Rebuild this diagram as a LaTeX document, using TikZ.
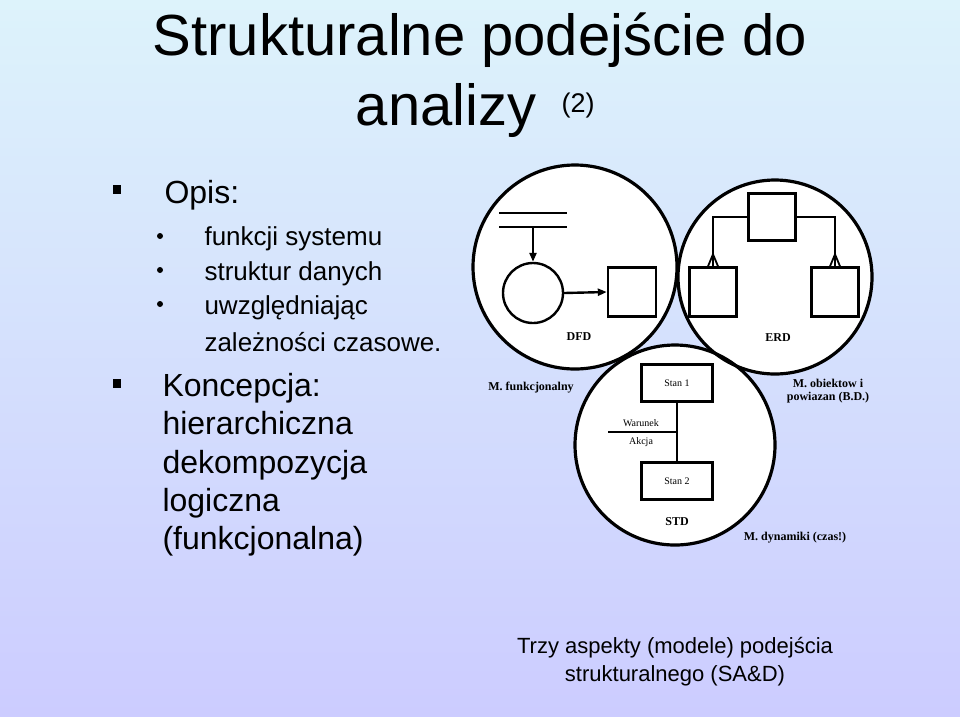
\documentclass[tikz,border=0pt]{standalone}
\usepackage{fontspec}
\setmainfont{Liberation Sans}
\newfontfamily\serifbody{Liberation Serif}
\usetikzlibrary{arrows.meta}

\tikzset{
  ring/.style={draw,line width=3.2pt,fill=white},
  part/.style={draw,line width=2.4pt},
  tag/.style={font=\serifbody\bfseries\fontsize{12}{14}\selectfont,align=center},
  small/.style={font=\serifbody\fontsize{10}{12}\selectfont},
  big/.style={font=\fontsize{32}{36}\selectfont,anchor=base west},
  sub/.style={font=\fontsize{26}{30}\selectfont,anchor=base west}
}

\begin{document}
\begin{tikzpicture}[x=1pt,y=-1pt]
% background
\shade[top color={rgb,255:red,221;green,243;blue,251},bottom color={rgb,255:red,204;green,204;blue,255}] (0,0) rectangle (960,716);
\useasboundingbox (0,0) rectangle (960,716);

% title
\node (title1) at (480,40) {\fontsize{58}{64}\selectfont Strukturalne podejście do};
\node[anchor=base east] (title2) at (540,125) {\fontsize{58}{64}\selectfont analizy};
\node[anchor=base west] (title3) at (558,112) {\fontsize{27}{30}\selectfont (2)};

% list
\fill (113,185) rectangle (121,194);
\node[big] (opis) at (161,203) {Opis:};
\foreach \y/\t in {245/funkcji systemu,280/struktur danych,314/uwzględniając,351/zależności czasowe.}{
  \node[sub] at (201,\y) {\t};
}
\foreach \y in {236,270,304}{ \fill (160,\y) circle (3); }
\fill (113,379) rectangle (121,388);
\foreach \y/\t in {396/Koncepcja:,434/hierarchiczna,473/dekompozycja,511/logiczna,549/(funkcjonalna)}{
  \node[big] at (159,\y) {\t};
}

% circles
\fill[white] (575,267) circle (102) (775,277) circle (97) (675,445) circle (100);
\draw[ring,fill=none] (575,267) circle (102);
\draw[ring,fill=none] (775,277) circle (97);
\draw[ring,fill=none] (675,445) circle (100);

% DFD
\draw[part] (499,213) -- (567,213);
\draw[part] (499,227) -- (567,227);
\node[part,circle,minimum size=60pt,inner sep=0pt] (proc) at (533,293) {};
\node[part,minimum width=48pt,minimum height=49pt] (store) at (632,292) {};
\coordinate (flowin) at (533,227);
\draw[part,-{Triangle[length=9pt,width=7pt]}] (flowin) -- (proc.north);
\draw[part,-{Triangle[length=9pt,width=7pt]}] (proc.east) -- (store.west);
\node[tag] (dfd) at (579,337) {DFD};

% ERD
\node[part,minimum width=47pt,minimum height=47pt] (entA) at (772,217) {};
\node[part,minimum width=47pt,minimum height=49pt] (entB) at (713,292) {};
\node[part,minimum width=47pt,minimum height=49pt] (entC) at (835,292) {};
\draw[part] (entA.west) -| (entB.north);
\draw[part] (entA.east) -| (entC.north);
\foreach \n in {entB,entC}{
  \draw[line width=1.8pt] ([yshift=12pt]\n.north) -- ([xshift=-5pt]\n.north)
    ([yshift=12pt]\n.north) -- ([xshift=5pt]\n.north);
}
\node[tag] (erd) at (778,338) {ERD};

% STD
\node[part,minimum width=71pt,minimum height=37pt,small] (stan1) at (677,383) {Stan 1};
\node[part,minimum width=71pt,minimum height=37pt,small] (stan2) at (677,481) {Stan 2};
\draw[part] (stan1) -- (stan2);
\coordinate (cond) at (608,432);
\draw[part] (cond) -- (cond -| stan1);
\node[small] (war) at (641,423) {Warunek};
\node[small] (akc) at (641,442) {Akcja};
\node[tag] (std) at (677,522) {STD};

% captions
\node[tag] (mfun) at (531,388) {M. funkcjonalny};
\node[tag,font=\serifbody\bfseries\fontsize{12}{13}\selectfont] (mobj) at (828,391) {M. obiektow i\\powiazan (B.D.)};
\node[tag] (mdyn) at (795,538) {M. dynamiki (czas!)};

% bottom note
\node[align=center,font=\fontsize{22}{28}\selectfont] (note) at (675,662) {Trzy aspekty (modele) podejścia\\strukturalnego (SA\&D)};
\end{tikzpicture}
\end{document}
